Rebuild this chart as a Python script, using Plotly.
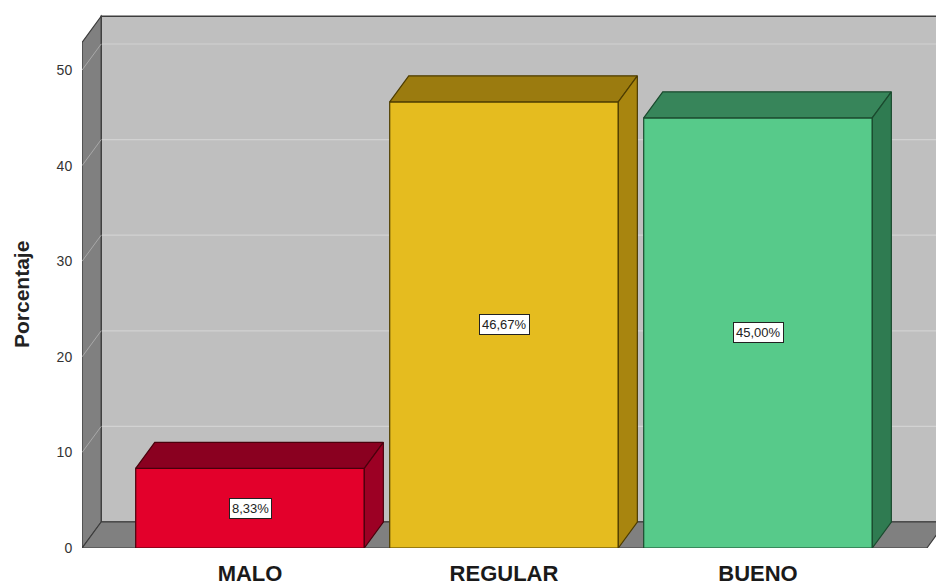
import plotly.graph_objects as go

# ---- data ----
categories = ["MALO", "REGULAR", "BUENO"]
percentages = [8.33, 46.67, 45.00]
y_ticks = [0, 10, 20, 30, 40, 50]

# ---- styles ----
front_colors = ["#e3002b", "#e5bc1f", "#57ca8a"]
top_colors = ["#8a0020", "#9b7b0f", "#37855a"]
side_colors = ["#9c0024", "#a8850f", "#2f7b51"]
edge_colors = ["#4a000c", "#4d3c00", "#1a4a2e"]

BAR_W = 0.9
DX = 0.075      # depth offset in x units
DY = 2.72       # depth offset in y units
X_LO = -0.661
X_HI = 2.665
Y_TOP = 52.9
X_RANGE = [(82 - 250) / 254, (936 - 250) / 254]
Y_RANGE = [0, 548 / 9.56]

WALL = "#bfbfbf"
SIDE = "#808080"
GRID = "#d2d2d2"
EDGE = "#3c3c3c"

fig = go.Figure()
shapes = []

# back wall
shapes.append(dict(type="rect", xref="x", yref="y", layer="below",
                   x0=X_LO + DX, x1=X_HI + DX + 1, y0=DY, y1=Y_TOP + DY,
                   fillcolor=WALL, line=dict(color=EDGE, width=1.5)))
# gridlines on back wall
for v in y_ticks[1:]:
    shapes.append(dict(type="line", xref="x", yref="y", layer="below",
                       x0=X_LO + DX, x1=X_HI + DX + 1, y0=v + DY, y1=v + DY,
                       line=dict(color=GRID, width=1.2)))
# left wall
shapes.append(dict(type="path", xref="x", yref="y", layer="below",
                   path=f"M{X_LO},0 L{X_LO + DX},{DY} L{X_LO + DX},{Y_TOP + DY} L{X_LO},{Y_TOP} Z",
                   fillcolor=SIDE, line=dict(color=EDGE, width=1.2)))
# floor
shapes.append(dict(type="path", xref="x", yref="y", layer="below",
                   path=f"M{X_LO},0 L{X_HI},0 L{X_HI + DX},{DY} L{X_LO + DX},{DY} Z",
                   fillcolor=SIDE, line=dict(color=EDGE, width=1.2)))
# diagonal tick connectors on left wall
for v in y_ticks[1:]:
    shapes.append(dict(type="line", xref="x", yref="y", layer="below",
                       x0=X_LO, x1=X_LO + DX, y0=v, y1=v + DY,
                       line=dict(color="#a8a8a8", width=1)))

xs = list(range(len(categories)))

# front faces
fig.add_trace(go.Bar(
    x=xs, y=percentages, width=BAR_W,
    marker=dict(color=front_colors, line=dict(color=edge_colors, width=1.2)),
    hoverinfo="skip", showlegend=False,
))

# top and side faces
for i, v in enumerate(percentages):
    xl, xr = i - BAR_W / 2, i + BAR_W / 2
    fig.add_trace(go.Scatter(
        x=[xl, xr, xr + DX, xl + DX, xl], y=[v, v, v + DY, v + DY, v],
        mode="lines", fill="toself", fillcolor=top_colors[i],
        line=dict(color=edge_colors[i], width=1.2),
        hoverinfo="skip", showlegend=False))
    fig.add_trace(go.Scatter(
        x=[xr, xr + DX, xr + DX, xr, xr], y=[0, DY, v + DY, v, 0],
        mode="lines", fill="toself", fillcolor=side_colors[i],
        line=dict(color=edge_colors[i], width=1.2),
        hoverinfo="skip", showlegend=False))

annotations = []
for i, v in enumerate(percentages):
    annotations.append(dict(
        x=i, y=v / 2, xref="x", yref="y", showarrow=False,
        text=f"{v:.2f}%".replace(".", ","),
        font=dict(family="Liberation Sans, Arial", size=13, color="#222222"),
        bgcolor="#ffffff", bordercolor="#222222", borderwidth=1, borderpad=2))

annotations.append(dict(
    xref="paper", yref="paper", x=(22 - 82) / 854, y=(548 - 295) / 548,
    xanchor="center", yanchor="middle", textangle=-90, showarrow=False,
    text="<b>Porcentaje</b>",
    font=dict(family="Liberation Sans, Arial", size=21, color="#222222")))

fig.update_layout(
    width=936, height=587, template="none",
    margin=dict(l=82, r=0, t=0, b=39),
    paper_bgcolor="#ffffff", plot_bgcolor="rgba(0,0,0,0)",
    shapes=shapes, annotations=annotations, showlegend=False,
    xaxis=dict(range=X_RANGE, tickvals=xs, ticktext=[f"<b>{c}</b>" for c in categories],
               showgrid=False, zeroline=False, showline=False, automargin=False,
               ticks="outside", ticklen=6, tickcolor="rgba(0,0,0,0)",
               tickfont=dict(family="Liberation Sans, Arial", size=22, color="#1a1a1a")),
    yaxis=dict(range=Y_RANGE, tickvals=y_ticks, showgrid=False, zeroline=False,
               showline=False, automargin=False,
               ticks="outside", ticklen=6, tickcolor="rgba(0,0,0,0)",
               tickfont=dict(family="Liberation Sans, Arial", size=14, color="#333333")),
)

fig.write_html("out.html")
